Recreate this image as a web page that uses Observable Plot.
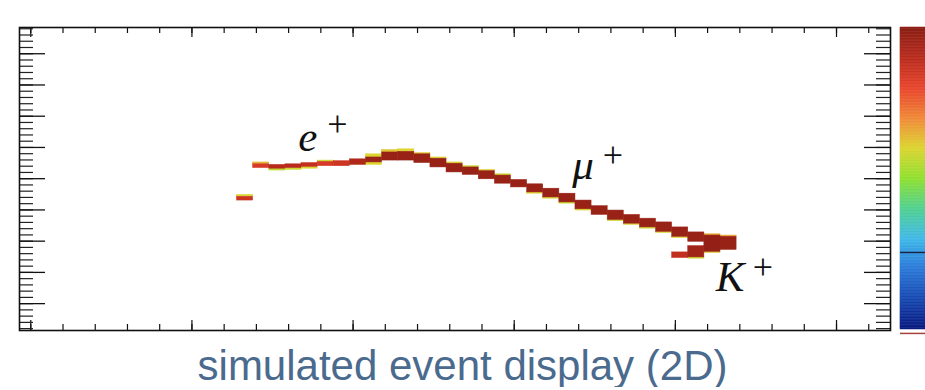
<!DOCTYPE html>
<html><head><meta charset="utf-8">
<script src="https://cdn.jsdelivr.net/npm/d3@7"></script>
<script src="https://cdn.jsdelivr.net/npm/@observablehq/plot@0.6"></script>
<style>
html,body{margin:0;padding:0;background:#fff;}
#row{display:flex;align-items:flex-start;}
#caption{font-family:"Liberation Sans",Arial,sans-serif;font-size:42px;line-height:42px;color:#4a6a8e;text-align:center;width:925px;margin-top:9px;white-space:nowrap;}
</style></head><body>
<div id="row"><div id="main"></div><div id="cbar"></div></div>
<div id="caption">simulated event display (2D)</div>
<script>
// ---- track cells (core deposits): x-bin column, y low, y high, energy fraction
const coreCol = [13,14,15,16,17,18,19,20,21,22,23,24,25,26,27,28,29,30,31,32,33,34,35,36,37,38,39,40,40,41,41,42,43];
const coreYlo = [165,217,216,217,219,220,220,222,226,229,229,225,218,210,206,199,192,186,178,170,162,151,142,134,128,122,115,107,73,99,74,83,86];
const coreYhi = [171,223,222,223,225,227,228,231,234,242,243,239,232,224,218,212,205,198,191,184,176,165,156,149,142,136,130,122,82,114,92,109,107];
const coreE   = [0.86,0.84,0.9,0.9,0.88,0.84,0.86,0.92,0.96,0.97,0.97,0.97,0.97,0.97,0.97,0.97,0.97,0.97,0.97,0.97,0.97,0.97,0.97,0.97,0.97,0.97,0.97,0.97,0.88,0.97,0.95,0.98,0.97];
// ---- halo cells (low-energy edges)
const haloCol = [13,14,15,16,17,18,21,21,22,23,24,25,26,27,28,29,31,32,33,34,36,37,38,39,40,41,42,42,43];
const haloYlo = [171,223,213,214,216,227,234,222,242,243,239,232,224,218,212,205,176,168,160,149,132,126,120,113,105,72,81,109,107];
const haloYhi = [174,226,216,217,219,229,239,226,246,247,241,234,226,220,214,207,178,170,162,151,134,128,122,115,107,74,83,111,109];
const haloE   = [0.6,0.64,0.56,0.58,0.6,0.58,0.6,0.6,0.62,0.6,0.62,0.6,0.6,0.58,0.6,0.58,0.6,0.6,0.58,0.6,0.58,0.6,0.58,0.6,0.6,0.58,0.62,0.66,0.66];
const binWidth = 10, binOffset = -2;

// ---- particle labels
const labelText = ["e","μ","K"];
const labelX = [166, 336, 425];
const labelY = [245, 200, 21];
const supText = ["+","+","+"];
const supX = [184, 355, 448];
const supY = [269, 218, 40];

// ---- axis ticks (unlabelled)
const xMajorTicks = [0,100,200,300,400,500];
const xMinorTicks = [0,20,40,60,80,100,120,140,160,180,200,220,240,260,280,300,320,340,360,380,400,420,440,460,480,500,520];
const yMajorTicks = [0,50,100,150,200,250,300,350,400];
const yMinorTicks = [-40,-30,-20,-10,0,10,20,30,40,50,60,70,80,90,100,110,120,130,140,150,160,170,180,190,200,210,220,230,240,250,260,270,280,290,300,310,320,330,340,350,360,370,380,390,400,410,420,430,440];

// ---- colour palette (bottom to top of the colour bar)
const palette = ["#0a1a80","#1648b0","#2a78d8","#40b8e8","#50d090","#90e030","#dcd430","#f08838","#e8452c","#b82a1c","#8a1e14"];
const colorbarMark = 0.255;
const interp = d3.piecewise(d3.interpolateRgb, palette);

const toCells = (col, lo, hi, e) => col.map((c, i) => ({x1: c*binWidth + binOffset, x2: c*binWidth + binOffset + binWidth, y1: lo[i], y2: hi[i], e: e[i]}));
const core = toCells(coreCol, coreYlo, coreYhi, coreE);
const halo = toCells(haloCol, haloYlo, haloYhi, haloE);
const labels = labelText.map((t, i) => ({t, x: labelX[i], y: labelY[i]}));
const sups = supText.map((t, i) => ({t, x: supX[i], y: supY[i]}));

const W = 895, H = 336, mL = 19, mR = 5, mT = 27, mB = 6;
const innerW = W - mL - mR, innerH = H - mT - mB;
const colorOpt = {type: "linear", domain: [0, 1], interpolate: interp};

const main = Plot.plot({
  width: W, height: H, marginLeft: mL, marginRight: mR, marginTop: mT, marginBottom: mB,
  x: {domain: [-7, 533.5], axis: null},
  y: {domain: [-43, 442], axis: null},
  color: colorOpt,
  style: {background: "white"},
  marks: [
    Plot.rect(halo, {x1: "x1", x2: "x2", y1: "y1", y2: "y2", fill: "e", stroke: "e", strokeWidth: 0.5, inset: 0}),
    Plot.rect(core, {x1: "x1", x2: "x2", y1: "y1", y2: "y2", fill: "e", stroke: "e", strokeWidth: 0.5, inset: 0}),
    // top & bottom ticks
    Plot.tickX(xMinorTicks, {x: d => d, insetBottom: innerH - 6, stroke: "#111", strokeWidth: 1.2}),
    Plot.tickX(xMajorTicks, {x: d => d, insetBottom: innerH - 10, stroke: "#111", strokeWidth: 1.2}),
    Plot.tickX(xMinorTicks, {x: d => d, insetTop: innerH - 6, stroke: "#111", strokeWidth: 1.2}),
    Plot.tickX(xMajorTicks, {x: d => d, insetTop: innerH - 10, stroke: "#111", strokeWidth: 1.2}),
    // left & right ticks
    Plot.tickY(yMinorTicks, {y: d => d, insetRight: innerW - 14, stroke: "#222", strokeWidth: 1.2}),
    Plot.tickY(yMajorTicks, {y: d => d, insetRight: innerW - 26, stroke: "#111", strokeWidth: 1.3}),
    Plot.tickY(yMinorTicks, {y: d => d, insetLeft: innerW - 14, stroke: "#222", strokeWidth: 1.2}),
    Plot.tickY(yMajorTicks, {y: d => d, insetLeft: innerW - 26, stroke: "#111", strokeWidth: 1.3}),
    Plot.frame({stroke: "#111", strokeWidth: 1.6}),
    Plot.text(labels, {x: "x", y: "y", text: "t", textAnchor: "start", lineAnchor: "bottom", fontSize: 43, fontFamily: "'Liberation Serif', 'DejaVu Serif', serif", fontStyle: "italic", fill: "#111"}),
    Plot.text(sups, {x: "x", y: "y", text: "t", textAnchor: "start", lineAnchor: "bottom", fontSize: 36, fontFamily: "'Liberation Serif', 'DejaVu Serif', serif", fill: "#111"})
  ]
});
document.getElementById("main").appendChild(main);

const rampStep = 0.005;
const ramp = d3.range(0, 1, rampStep);
const cbar = Plot.plot({
  width: 30, height: H, marginLeft: 5, marginRight: 0, marginTop: mT, marginBottom: 7,
  x: {domain: [0, 1], axis: null},
  y: {domain: [0, 1], axis: null},
  color: colorOpt,
  style: {background: "white"},
  marks: [
    Plot.rect(ramp, {x1: 0, x2: 1, y1: d => d, y2: d => d + rampStep, fill: d => d + rampStep / 2, stroke: d => d + rampStep / 2, strokeWidth: 0.5, inset: 0}),
    Plot.ruleY([colorbarMark], {stroke: "#1a2448", strokeWidth: 1.5}),
    Plot.ruleY([-0.013], {stroke: "#a84040", strokeWidth: 1.5})
  ]
});
document.getElementById("cbar").appendChild(cbar);
</script></body></html>
